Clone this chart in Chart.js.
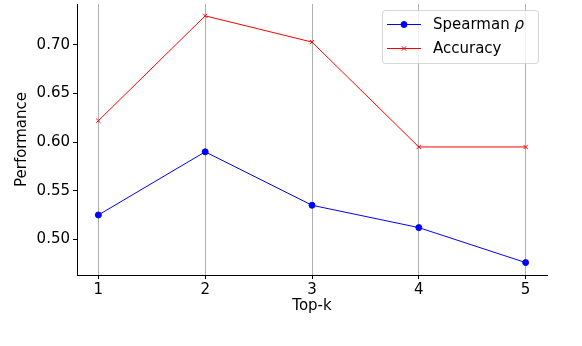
<!DOCTYPE html>
<html>
<head>
<meta charset="utf-8">
<script src="https://cdn.jsdelivr.net/npm/chart.js@4/dist/chart.umd.min.js"></script>
<style>
  body { margin: 0; background: #fff; }
  #wrap { width: 582px; height: 346px; }
</style>
</head>
<body>
<div id="wrap"><canvas id="perf-chart" width="582" height="346"></canvas></div>
<script>
// values
const topK = [1, 2, 3, 4, 5];
const spearman = [0.525, 0.590, 0.535, 0.512, 0.476];
const accuracy = [0.622, 0.730, 0.703, 0.595, 0.595];
const xTicks = [1, 2, 3, 4, 5];
const yTicks = [0.50, 0.55, 0.60, 0.65, 0.70];

const FONT = "'DejaVu Sans', sans-serif";
const FS = 15;

// matplotlib-like legend: line with marker in the middle, frame with alpha
const mplLegend = {
  id: "mplLegend",
  afterDatasetsDraw(chart) {
    const ctx = chart.ctx;
    const x0 = 382.5, y0 = 10.5, w = 156, h = 53, r = 3;
    ctx.save();
    ctx.beginPath();
    ctx.roundRect(x0, y0, w, h, r);
    ctx.fillStyle = "rgba(255,255,255,0.8)";
    ctx.fill();
    ctx.strokeStyle = "rgba(204,204,204,0.8)";
    ctx.lineWidth = 1;
    ctx.stroke();

    chart.data.datasets.forEach((ds, i) => {
      const cy = 24.5 + i * 24;
      ctx.strokeStyle = ds.borderColor;
      ctx.lineWidth = 1;
      ctx.beginPath();
      ctx.moveTo(387, cy);
      ctx.lineTo(421, cy);
      ctx.stroke();
      ctx.fillStyle = ds.backgroundColor;
      Chart.helpers.drawPoint(ctx, {
        pointStyle: ds.pointStyle,
        radius: ds.pointRadius,
        borderWidth: ds.borderWidth
      }, 404, cy);
      // text: greek letters in oblique, like mathtext
      ctx.fillStyle = "#000";
      ctx.textBaseline = "middle";
      let tx = 433;
      for (const part of ds.label.split(/([\u0370-\u03ff])/)) {
        if (!part) continue;
        const greek = /[\u0370-\u03ff]/.test(part);
        ctx.font = (greek ? "oblique " : "") + FS + "px " + FONT;
        ctx.fillText(part, tx, cy + 1);
        tx += ctx.measureText(part).width;
      }
    });
    ctx.restore();
  }
};

const canvas = document.querySelector("#perf-chart");
new Chart(canvas, {
  type: "line",
  data: {
    datasets: [
      {
        label: "Spearman ρ",
        data: topK.map((k, i) => ({ x: k, y: spearman[i] })),
        borderColor: "#0000ff",
        backgroundColor: "#0000ff",
        borderWidth: 1,
        pointStyle: "circle",
        pointRadius: 3,
        pointHoverRadius: 3,
        tension: 0
      },
      {
        label: "Accuracy",
        data: topK.map((k, i) => ({ x: k, y: accuracy[i] })),
        borderColor: "#ff0000",
        backgroundColor: "#ff0000",
        borderWidth: 1,
        pointStyle: "crossRot",
        pointRadius: 3,
        pointHoverRadius: 3,
        tension: 0
      }
    ]
  },
  options: {
    responsive: false,
    animation: false,
    events: [],
    layout: { padding: { left: 0, right: 35, top: 2, bottom: 0 } },
    plugins: {
      legend: { display: false },
      tooltip: { enabled: false }
    },
    scales: {
      x: {
        type: "linear",
        min: 0.8,
        max: 5.2,
        afterBuildTicks: s => { s.ticks = xTicks.map(v => ({ value: v })); },
        afterFit: s => { s.height = 71; s.paddingLeft = 0; s.paddingRight = 0; },
        grid: {
          color: "#b0b0b0",
          tickColor: "#000",
          tickLength: 4,
          lineWidth: 1
        },
        border: { color: "#000", width: 1 },
        ticks: {
          color: "#000",
          padding: 2,
          font: { family: FONT, size: FS },
          callback: v => String(v)
        },
        title: {
          display: true,
          text: "Top-k",
          color: "#000",
          font: { family: FONT, size: FS },
          padding: { top: 0, bottom: 30.5 }
        }
      },
      y: {
        type: "linear",
        min: 0.4632,
        max: 0.7422,
        afterBuildTicks: s => { s.ticks = yTicks.map(v => ({ value: v })); },
        afterFit: s => { s.width = 77; s.paddingTop = 0; s.paddingBottom = 0; },
        grid: {
          drawOnChartArea: false,
          color: "#000",
          tickColor: "#000",
          tickLength: 4
        },
        border: { color: "#000", width: 1 },
        ticks: {
          color: "#000",
          padding: 3,
          font: { family: FONT, size: FS },
          callback: v => Number(v).toFixed(2)
        },
        title: {
          display: true,
          text: "Performance",
          color: "#000",
          font: { family: FONT, size: FS },
          padding: { top: 13.5, bottom: 0 }
        }
      }
    }
  },
  plugins: [mplLegend]
});
</script>
</body>
</html>
